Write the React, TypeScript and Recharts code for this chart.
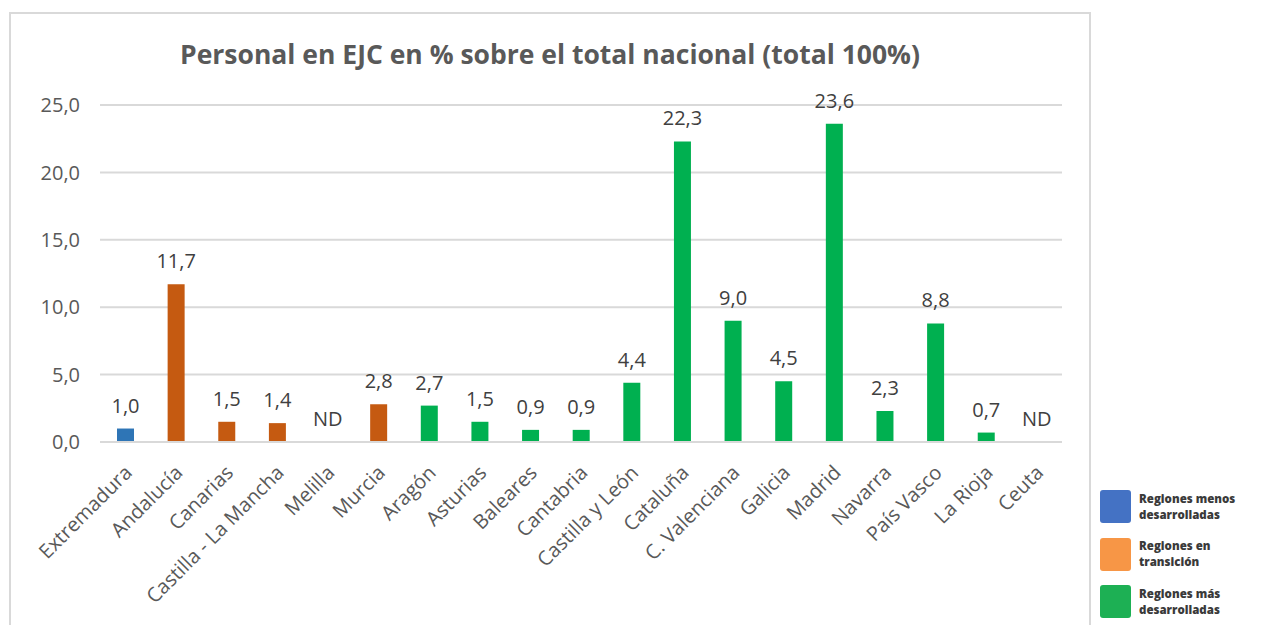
import { ComposedChart, Bar, Line, XAxis, YAxis, CartesianGrid, Cell, LabelList } from 'recharts';

const regions = [
  'Extremadura', 'Andalucía', 'Canarias', 'Castilla - La Mancha', 'Melilla', 'Murcia',
  'Aragón', 'Asturias', 'Baleares', 'Cantabria', 'Castilla y León', 'Cataluña',
  'C. Valenciana', 'Galicia', 'Madrid', 'Navarra', 'País Vasco', 'La Rioja', 'Ceuta',
];
// null = ND (no data)
const personal: (number | null)[] = [
  1.0, 11.7, 1.5, 1.4, null, 2.8,
  2.7, 1.5, 0.9, 0.9, 4.4, 22.3,
  9.0, 4.5, 23.6, 2.3, 8.8, 0.7, null,
];
const groups = [
  'menos', 'transicion', 'transicion', 'transicion', 'transicion', 'transicion',
  'mas', 'mas', 'mas', 'mas', 'mas', 'mas',
  'mas', 'mas', 'mas', 'mas', 'mas', 'mas', 'mas',
];
const yTicks = [0, 5, 10, 15, 20, 25];

const barColors: Record<string, string> = {
  menos: '#2E75B6',
  transicion: '#C55A11',
  mas: '#00B050',
};
const legendItems = [
  { color: '#4472C4', lines: ['Regiones menos', 'desarrolladas'] },
  { color: '#F79646', lines: ['Regiones en', 'transición'] },
  { color: '#1DB054', lines: ['Regiones más', 'desarrolladas'] },
];

const data = regions.map((name, i) => ({
  name,
  value: personal[i],
  // ND rows get a marker at the baseline so the "ND" text can sit there
  ndAt: personal[i] === null ? 0 : null,
  group: groups[i],
}));

const font = '"Open Sans", sans-serif';
const fmt = (v: number) => v.toFixed(1).replace('.', ',');

const XTick = ({ x, y, payload }: any) => (
  <g transform={`translate(${x + 3},${y + 19})`}>
    <text
      transform="rotate(-45)"
      textAnchor="end"
      dy="0.35em"
      fill="#595959"
      fontSize={20}
      fontFamily={font}
    >
      {payload.value}
    </text>
  </g>
);

export default function App() {
  return (
    <div style={{ position: 'relative', width: 1257, height: 617, overflow: 'hidden', background: '#fff' }}>
      <div
        style={{
          position: 'absolute', left: 1, top: 4, width: 1082, height: 700,
          border: '2px solid #d9d9d9', boxSizing: 'border-box',
        }}
      />
      <div
        style={{
          position: 'absolute', left: 0, top: 28, width: 1084, textAlign: 'center',
          fontFamily: font, fontWeight: 700, fontSize: 26.5, color: '#595959',
        }}
      >
        Personal en EJC en % sobre el total nacional (total 100%)
      </div>
      <div style={{ position: 'absolute', left: 0, top: 0 }}>
        <ComposedChart
          width={1257}
          height={617}
          data={data}
          margin={{ top: 97, right: 203, bottom: 0, left: 0 }}
          barCategoryGap={0}
        >
          <CartesianGrid vertical={false} stroke="#d9d9d9" strokeWidth={2} />
          <XAxis
            dataKey="name"
            interval={0}
            height={183}
            axisLine={{ stroke: '#d9d9d9', strokeWidth: 2 }}
            tickLine={false}
            tick={<XTick />}
          />
          <YAxis
            width={92}
            domain={[0, 25]}
            ticks={yTicks}
            axisLine={false}
            tickLine={false}
            tickMargin={14}
            tickFormatter={fmt}
            tick={{ fill: '#595959', fontSize: 20, fontFamily: font }}
          />
          <Bar dataKey="value" barSize={17} isAnimationActive={false}>
            {data.map((d, i) => (
              <Cell key={i} fill={barColors[d.group]} />
            ))}
            <LabelList
              dataKey="value"
              content={(p: any) =>
                p.value == null ? null : (
                  <text
                    x={p.x + p.width / 2}
                    y={p.y - 16}
                    textAnchor="middle"
                    fill="#404040"
                    fontSize={20}
                    fontFamily={font}
                  >
                    {fmt(p.value)}
                  </text>
                )
              }
            />
          </Bar>
          <Line
            dataKey="ndAt"
            stroke="none"
            dot={false}
            activeDot={false}
            isAnimationActive={false}
          >
            <LabelList
              dataKey="ndAt"
              content={(p: any) =>
                p.value == null ? null : (
                  <text
                    x={p.x}
                    y={p.y - 16}
                    textAnchor="middle"
                    fill="#404040"
                    fontSize={20}
                    fontFamily={font}
                  >
                    ND
                  </text>
                )
              }
            />
          </Line>
        </ComposedChart>
      </div>
      {legendItems.map((it, i) => (
        <div
          key={i}
          style={{
            position: 'absolute', left: 1092, top: 482 + i * 47.5,
            display: 'flex', alignItems: 'center', fontFamily: font,
          }}
        >
          <div style={{ width: 31, height: 33, background: it.color, borderRadius: 3 }} />
          <div
            style={{
              marginLeft: 8, fontSize: 11.5, fontWeight: 800, lineHeight: '16px',
              color: '#3a3a3a', whiteSpace: 'nowrap',
            }}
          >
            <div>{it.lines[0]}</div>
            <div>{it.lines[1]}</div>
          </div>
        </div>
      ))}
    </div>
  );
}
